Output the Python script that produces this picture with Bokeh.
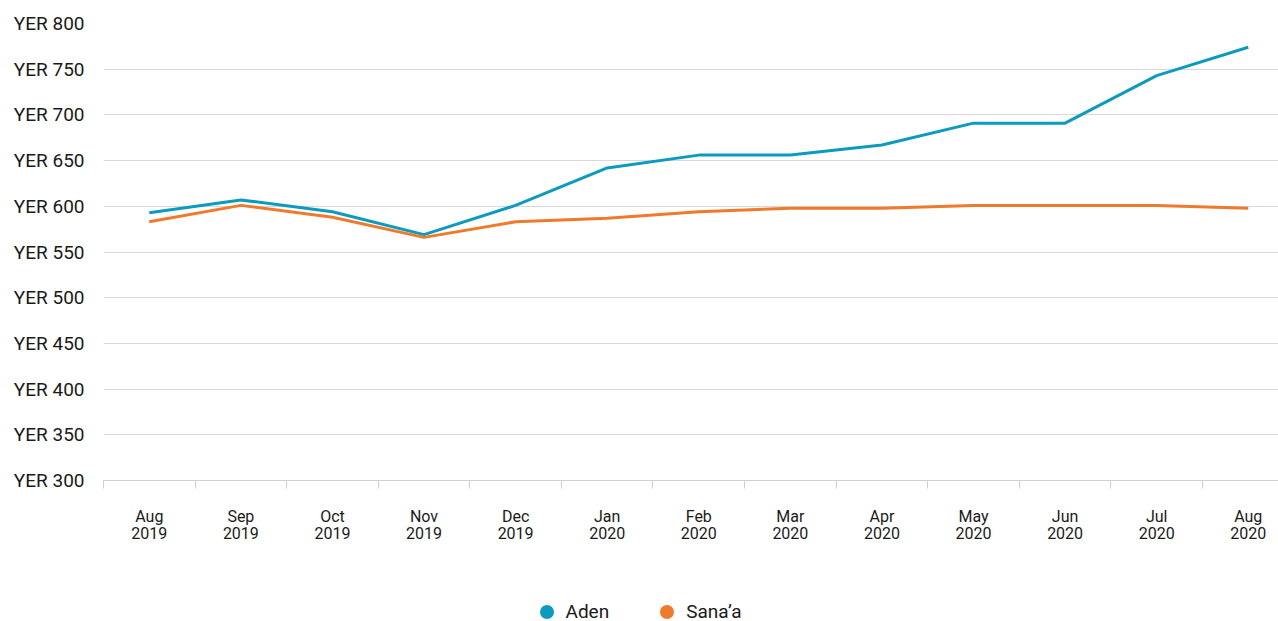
import math
from bokeh.plotting import figure
from bokeh.layouts import column
from bokeh.models import (FixedTicker, PrintfTickFormatter, Legend, LegendItem,
                          ColumnDataSource, Range1d)
from bokeh.embed import file_html
from bokeh.resources import INLINE

months = ["Aug\n2019", "Sep\n2019", "Oct\n2019", "Nov\n2019", "Dec\n2019",
          "Jan\n2020", "Feb\n2020", "Mar\n2020", "Apr\n2020", "May\n2020",
          "Jun\n2020", "Jul\n2020", "Aug\n2020"]
aden = [593, 607, 594, 569, 601, 642, 656, 656, 667, 691, 691, 743, 774]
sanaa = [583, 601, 588, 566, 583, 587, 594, 598, 598, 601, 601, 601, 598]
series_names = ["Aden", "Sana\u2019a"]
y_ticks = [300, 350, 400, 450, 500, 550, 600, 650, 700, 750, 800]

AQUA = "#0A9BBF"
ORANGE = "#F07A2B"

xs = list(range(len(months)))

p = figure(width=1278, height=560, output_backend="svg", toolbar_location=None,
           x_range=Range1d(-0.5, 12.33), y_range=Range1d(300, 800),
           min_border_left=103, min_border_right=0, min_border_top=23,
           min_border_bottom=80)
p.outline_line_color = None
p.background_fill_color = "white"

src = ColumnDataSource(dict(x=xs, aden=aden, sanaa=sanaa))
p.line("x", "aden", source=src, line_color=AQUA, line_width=3, line_join="round")
p.line("x", "sanaa", source=src, line_color=ORANGE, line_width=3, line_join="round")

# y axis
p.yaxis.ticker = FixedTicker(ticks=y_ticks)
p.yaxis.formatter = PrintfTickFormatter(format="YER %d")
p.yaxis.axis_line_color = None
p.yaxis.major_tick_line_color = None
p.yaxis.minor_tick_line_color = None
p.yaxis.major_tick_out = 0
p.yaxis.major_label_standoff = 19
p.yaxis.major_label_text_font = "Roboto"
p.yaxis.major_label_text_font_size = "19px"
p.yaxis.major_label_text_color = "#1a1a1a"

p.ygrid.ticker = FixedTicker(ticks=y_ticks)
p.ygrid.grid_line_color = "#d9d9d9"
p.ygrid.grid_line_width = 1
p.xgrid.grid_line_color = None

# x axis
p.xaxis.ticker = FixedTicker(ticks=xs, minor_ticks=[i - 0.5 for i in xs])
p.xaxis.major_label_overrides = {i: m for i, m in enumerate(months)}
p.xaxis.axis_line_color = "#d0d0d0"
p.xaxis.major_tick_line_color = None
p.xaxis.major_tick_out = 0
p.xaxis.major_tick_in = 0
p.xaxis.minor_tick_line_color = "#d0d0d0"
p.xaxis.minor_tick_out = 8
p.xaxis.minor_tick_in = 0
p.xaxis.major_label_standoff = 18
p.xaxis.major_label_text_font = "Roboto"
p.xaxis.major_label_text_font_size = "16px"
p.xaxis.major_label_text_line_height = 0.9
p.xaxis.major_label_text_color = "#1a1a1a"

# legend strip below the chart
lf = figure(width=1278, height=61, output_backend="svg", toolbar_location=None,
            x_range=Range1d(0, 1), y_range=Range1d(0, 1),
            x_axis_location=None, y_axis_location=None,
            min_border=0, min_border_left=0, min_border_right=0,
            min_border_top=0, min_border_bottom=0)
lf.outline_line_color = None
lf.grid.visible = False
nan_src = ColumnDataSource(dict(x=[math.nan], y=[math.nan]))
r1 = lf.scatter("x", "y", source=nan_src, marker="circle", fill_color=AQUA, line_color=None)
r2 = lf.scatter("x", "y", source=nan_src, marker="circle", fill_color=ORANGE, line_color=None)

legend = Legend(items=[LegendItem(label=series_names[0], renderers=[r1]),
                       LegendItem(label=series_names[1], renderers=[r2])],
                orientation="horizontal", location=(425.5, -7.5),
                glyph_width=35, glyph_height=35, label_standoff=2, spacing=40,
                padding=0, margin=0, border_line_color=None,
                background_fill_alpha=0,
                label_text_font="Roboto", label_text_font_size="19px",
                label_text_color="#1a1a1a")
lf.add_layout(legend, "center")

layout = column(p, lf, spacing=0)
open("out.html", "w").write(file_html(layout, INLINE))
